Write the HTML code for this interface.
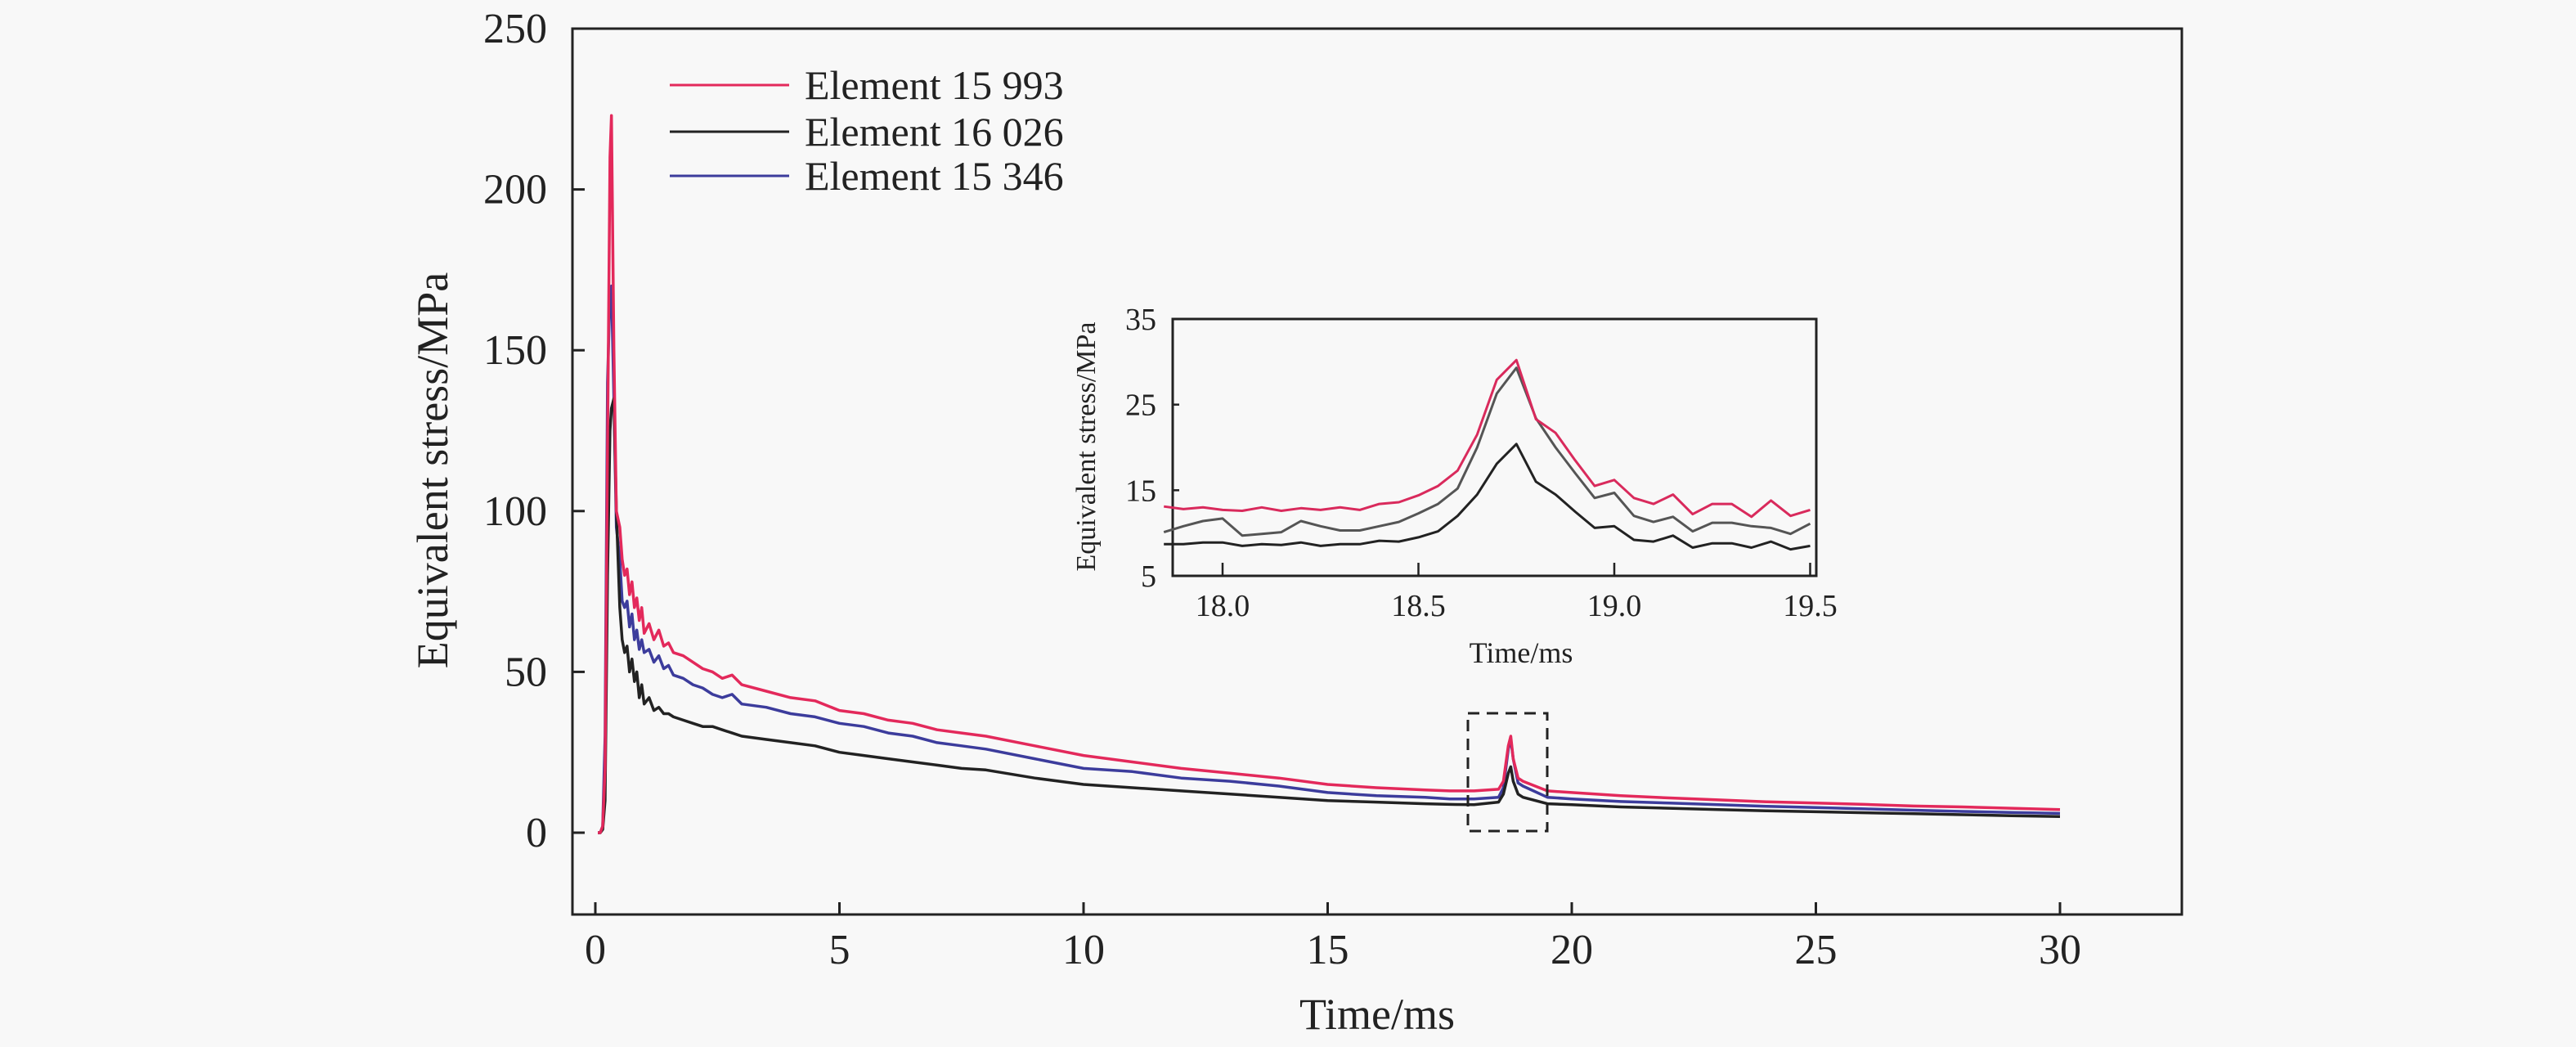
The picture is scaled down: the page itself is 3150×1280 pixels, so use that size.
<!DOCTYPE html>
<html><head><meta charset="utf-8">
<style>
html,body{margin:0;padding:0;background:#f8f8f8;}
svg{display:block;font-family:"Liberation Serif",serif;}
</style></head>
<body>
<svg id="chart" width="3150" height="1280" viewBox="0 0 3150 1280" xmlns="http://www.w3.org/2000/svg">
<rect x="0" y="0" width="3150" height="1280" fill="#f8f8f8"/>
<g id="main"></g>
<g id="inset"></g>
</svg>
<script>
const times=[0.05,0.1,0.15,0.2,0.25,0.3,0.33,0.38,0.43,0.5,0.55,0.6,0.65,0.7,0.75,0.8,0.85,0.9,0.95,1.0,1.1,1.2,1.3,1.4,1.5,1.6,1.8,2.0,2.2,2.4,2.6,2.8,3.0,3.5,4,4.5,5,5.5,6,6.5,7,7.5,8,9,10,11,12,13,14,15,16,17,17.5,18,18.5,18.6,18.7,18.75,18.8,18.9,19,19.5,20,21,22,23,24,25,26,27,28,29,30];
const red15993=[0,0,2,20,120,210,223,150,100,95,85,80,82,74,78,70,73,66,70,62,65,60,63,58,59,56,55,53,51,50,48,49,46,44,42,41,38,37,35,34,32,31,30,27,24,22,20,18.5,17,15,14,13.3,13,13,13.5,16,27,30,23,17,16,13,12.5,11.5,10.8,10.2,9.6,9.2,8.8,8.3,8,7.6,7.2];
const blue15346=[0,0,2,30,140,168,170,135,95,85,72,70,72,64,68,60,63,57,60,56,57,53,55,51,52,49,48,46,45,43,42,43,40,39,37,36,34,33,31,30,28,27,26,23,20,19,17,16,14.5,12.5,11.5,11,10.5,10.5,11,14,26,29,23,15.5,14.5,11,10.5,9.7,9.2,8.7,8.2,7.8,7.4,7,6.6,6.3,6];
const black16026=[0,0,1,10,80,125,132,135,100,70,60,56,58,50,54,47,50,42,46,40,42,38,39,37,37,36,35,34,33,33,32,31,30,29,28,27,25,24,23,22,21,20,19.5,17,15,14,13,12,11,10,9.5,9,8.8,8.7,9.5,12,18.5,20.5,16,12,11,9,8.7,8,7.6,7.2,6.8,6.5,6.2,5.9,5.6,5.3,5];
const xTicks=[0,5,10,15,20,25,30];
const yTicks=[0,50,100,150,200,250];
const legendLabels=["Element 15 993","Element 16 026","Element 15 346"];

const insetTimes=[17.85,17.9,17.95,18.0,18.05,18.1,18.15,18.2,18.25,18.3,18.35,18.4,18.45,18.5,18.55,18.6,18.65,18.7,18.75,18.8,18.85,18.9,18.95,19.0,19.05,19.1,19.15,19.2,19.25,19.3,19.35,19.4,19.45,19.5];
const insetRed=[13.1,12.8,13,12.7,12.6,13,12.6,12.9,12.7,13,12.7,13.4,13.6,14.4,15.5,17.3,21.5,27.9,30.2,23.3,21.7,18.5,15.5,16.2,14.1,13.4,14.5,12.2,13.4,13.4,11.9,13.8,12,12.7];
const insetMid=[10.1,10.8,11.4,11.7,9.7,9.9,10.1,11.4,10.8,10.3,10.3,10.8,11.3,12.3,13.4,15.2,20,26.3,29.3,23.4,20,17,14.1,14.7,12,11.3,11.9,10.2,11.2,11.2,10.8,10.6,9.9,11.1];
const insetBlack=[8.7,8.7,8.9,8.9,8.5,8.7,8.6,8.9,8.5,8.7,8.7,9.1,9.0,9.5,10.2,12,14.5,18.1,20.4,16,14.5,12.5,10.6,10.8,9.2,9,9.7,8.3,8.8,8.8,8.3,9.0,8.1,8.5];
const insetXTicks=[18.0,18.5,19.0,19.5];
const insetYTicks=[5,15,25,35];

const NS="http://www.w3.org/2000/svg";
function mk(tag,attrs,parent,text){const e=document.createElementNS(NS,tag);for(const k in attrs)e.setAttribute(k,attrs[k]);if(text!==undefined)e.textContent=text;parent.appendChild(e);return e;}

const X0=728,XS=59.7; const Y0=1018,YS=3.932;
const px=t=>X0+t*XS, py=v=>Y0-v*YS;
const main=document.getElementById('main');
const L=700,R=2668,T=35,B=1118;
const frame=mk('rect',{x:L,y:T,width:R-L,height:B-T,fill:'none',stroke:'#222','stroke-width':3},main);


xTicks.forEach(t=>{
  const l=mk('line',{x1:px(t),x2:px(t),y1:B,y2:B-15,stroke:'#222','stroke-width':3},main);
  
  
  const s=mk('text',{x:px(t),y:1178,'font-size':52,'text-anchor':'middle',fill:'#222'},main,String(t));
  
  
});
yTicks.forEach(v=>{
  const l=mk('line',{x1:L,x2:L+15,y1:py(v),y2:py(v),stroke:'#222','stroke-width':3},main);
  
  
  const s=mk('text',{x:669,y:py(v)+17,'font-size':52,'text-anchor':'end',fill:'#222'},main,String(v));
  
  
});
const xt=mk('text',{x:1684,y:1258,'font-size':54,'text-anchor':'middle',fill:'#222'},main,'Time/ms');


const yt=mk('text',{x:0,y:0,'font-size':54,'text-anchor':'middle',fill:'#222',transform:'translate(547,575) rotate(-90)'},main,'Equivalent stress/MPa');



const colors=['#e3295b','#222222','#3c3c9c'];
const series=[red15993,black16026,blue15346];
const names=['series-element-15993','series-element-16026','series-element-15346'];
[2,1,0].forEach(i=>{
  const d=series[i].map((v,j)=>(j?'L':'M')+px(times[j]).toFixed(1)+','+py(v).toFixed(1)).join(' ');
  const p=mk('path',{d:d,fill:'none',stroke:colors[i],'stroke-width':3.5,'stroke-linejoin':'round'},main);
  
  
});
const legY=[104,161,215];
legendLabels.forEach((lab,i)=>{
  const l=mk('line',{x1:819,x2:965,y1:legY[i],y2:legY[i],stroke:colors[i],'stroke-width':3},main);
  
  
  const s=mk('text',{x:984,y:legY[i]+17,'font-size':50,fill:'#222'},main,lab);
  
  
});
const box=mk('rect',{x:1795,y:872,width:97,height:144,fill:'none',stroke:'#222','stroke-width':3,'stroke-dasharray':'14,9'},main);



const ins=document.getElementById('inset');
const IL=1434,IR=2221,IT=390,IB=704;
const ix=t=>1495+(t-18)*479,iy=v=>IB-(v-5)*(IB-IT)/30;
const ifr=mk('rect',{x:IL,y:IT,width:IR-IL,height:IB-IT,fill:'none',stroke:'#222','stroke-width':3},ins);


insetXTicks.forEach(t=>{
  const l=mk('line',{x1:ix(t),x2:ix(t),y1:IB,y2:IB-16,stroke:'#222','stroke-width':2.5},ins);
  
  
  const s=mk('text',{x:ix(t),y:753,'font-size':38,'text-anchor':'middle',fill:'#222'},ins,t.toFixed(1));
  
  
});
insetYTicks.forEach(v=>{
  const l=mk('line',{x1:IL,x2:IL+8,y1:iy(v),y2:iy(v),stroke:'#222','stroke-width':2.5},ins);
  
  
  const s=mk('text',{x:1414,y:iy(v)+13,'font-size':38,'text-anchor':'end',fill:'#222'},ins,String(v));
  
  
});
const ixt=mk('text',{x:1860,y:810,'font-size':36,'text-anchor':'middle',fill:'#222'},ins,'Time/ms');


const iyt=mk('text',{x:0,y:0,'font-size':34,'text-anchor':'middle',fill:'#222',transform:'translate(1339,546) rotate(-90)'},ins,'Equivalent stress/MPa');


const iser=[insetBlack,insetMid,insetRed], icol=['#222','#555','#d92a5c'], inames=['inset-series-lower','inset-series-middle','inset-series-upper'];
iser.forEach((s,i)=>{
  const d=s.map((v,j)=>(j?'L':'M')+ix(insetTimes[j]).toFixed(1)+','+iy(v).toFixed(1)).join(' ');
  const p=mk('path',{d:d,fill:'none',stroke:icol[i],'stroke-width':3,'stroke-linejoin':'round'},ins);
  
  
});
</script>
</body></html>
